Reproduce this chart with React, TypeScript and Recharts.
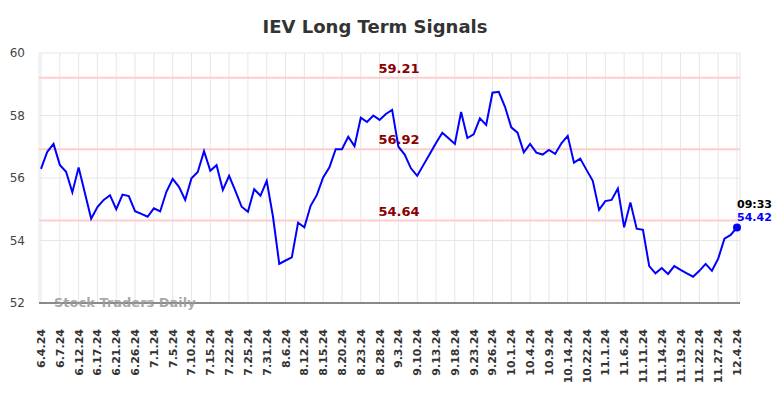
import React from "react";
import { LineChart, Line, XAxis, YAxis, CartesianGrid, ReferenceLine } from "recharts";

const dates: string[] = [
  "6.4.24","6.5.24","6.6.24","6.7.24","6.10.24","6.11.24","6.12.24","6.13.24","6.14.24","6.17.24",
  "6.18.24","6.20.24","6.21.24","6.24.24","6.25.24","6.26.24","6.27.24","6.28.24","7.1.24","7.2.24",
  "7.3.24","7.5.24","7.8.24","7.9.24","7.10.24","7.11.24","7.12.24","7.15.24","7.16.24","7.18.24",
  "7.22.24","7.23.24","7.24.24","7.25.24","7.26.24","7.29.24","7.31.24","8.1.24","8.2.24","8.6.24",
  "8.7.24","8.9.24","8.12.24","8.13.24","8.14.24","8.15.24","8.16.24","8.19.24","8.20.24","8.21.24",
  "8.22.24","8.23.24","8.26.24","8.27.24","8.28.24","8.29.24","8.30.24","9.3.24","9.5.24","9.6.24",
  "9.10.24","9.11.24","9.12.24","9.13.24","9.16.24","9.17.24","9.18.24","9.19.24","9.20.24","9.23.24",
  "9.24.24","9.25.24","9.26.24","9.27.24","9.30.24","10.1.24","10.2.24","10.3.24","10.4.24","10.7.24",
  "10.8.24","10.9.24","10.10.24","10.11.24","10.14.24","10.16.24","10.18.24","10.22.24","10.24.24","10.28.24",
  "11.1.24","11.4.24","11.5.24","11.6.24","11.7.24","11.8.24","11.11.24","11.12.24","11.13.24","11.14.24",
  "11.15.24","11.18.24","11.19.24","11.20.24","11.21.24","11.22.24","11.25.24","11.26.24","11.27.24","11.29.24",
  "12.3.24","12.4.24",
];

const prices: number[] = [
  56.29, 56.84, 57.09, 56.42, 56.20, 55.54, 56.34, 55.52, 54.70, 55.07,
  55.30, 55.45, 55.00, 55.47, 55.42, 54.94, 54.85, 54.76, 55.03, 54.93,
  55.56, 55.97, 55.72, 55.30, 55.99, 56.19, 56.86, 56.23, 56.41, 55.62,
  56.07, 55.59, 55.08, 54.92, 55.64, 55.43, 55.91, 54.76, 53.25, 53.36,
  53.46, 54.57, 54.42, 55.11, 55.46, 56.02, 56.34, 56.92, 56.92, 57.32,
  57.02, 57.93, 57.79, 58.00, 57.86, 58.05, 58.18, 57.00, 56.75, 56.31,
  56.07, 56.42, 56.77, 57.12, 57.45, 57.27, 57.09, 58.11, 57.28, 57.40,
  57.91, 57.70, 58.73, 58.76, 58.28, 57.62, 57.45, 56.82, 57.09, 56.81,
  56.75, 56.90, 56.77, 57.11, 57.35, 56.49, 56.62, 56.26, 55.91, 54.98,
  55.26, 55.30, 55.66, 54.42, 55.22, 54.38, 54.34, 53.18, 52.95, 53.12,
  52.93, 53.18, 53.06, 52.95, 52.84, 53.03, 53.25, 53.03, 53.42, 54.06,
  54.18, 54.42,
];

const signalLevels: number[] = [59.21, 56.92, 54.64];
const yTicks: number[] = [52, 54, 56, 58, 60];
const title = "IEV Long Term Signals";
const lastTime = "09:33";
const watermark = "Stock Traders Daily";

const data = dates.map((d, i) => ({ date: d, price: prices[i] }));
const lastIndex = prices.length - 1;

const FONT = "'DejaVu Sans', sans-serif";

const XTick = (props: any) => {
  const { x, y, payload } = props;
  return (
    <text
      x={0}
      y={0}
      transform={`translate(${x + 4},${y + 18}) rotate(-90)`}
      textAnchor="end"
      fontFamily={FONT}
      fontSize={11}
      fontWeight="bold"
      fill="#333"
    >
      {payload.value}
    </text>
  );
};

const LastDot = (props: any) => {
  const { cx, cy, index } = props;
  if (index !== lastIndex || cx == null) return null;
  return (
    <g>
      <circle cx={cx} cy={cy} r={4} fill="#0000ff" stroke="none" />
      <text x={cx} y={cy - 19} fontFamily={FONT} fontSize={11} fontWeight="bold" fill="#000">
        {lastTime}
      </text>
      <text x={cx} y={cy - 6} fontFamily={FONT} fontSize={11} fontWeight="bold" fill="#0000ff">
        {prices[lastIndex].toFixed(2)}
      </text>
    </g>
  );
};

const LevelLabel = (props: any) => {
  const { viewBox, value } = props;
  const cx = 399;
  return (
    <text
      x={cx}
      y={viewBox.y - 5}
      textAnchor="middle"
      fontFamily={FONT}
      fontSize={13}
      fontWeight="bold"
      fill="#8b0000"
    >
      {value}
    </text>
  );
};

export default function App() {
  return (
    <div style={{ position: "absolute", left: 0, top: 0, width: 784, height: 398, background: "#fff" }}>
      <svg width={784} height={398} style={{ position: "absolute", left: 0, top: 0, pointerEvents: "none" }}>
        <text
          x={375}
          y={33}
          textAnchor="middle"
          fontFamily={FONT}
          fontSize={18}
          fontWeight="bold"
          fill="#333"
        >
          {title}
        </text>
      </svg>
      <div style={{ position: "absolute", left: 0, top: 0 }}>
        <LineChart
          width={784}
          height={398}
          data={data}
          margin={{ top: 53, right: 44, bottom: 0, left: 0 }}
        >
          <CartesianGrid stroke="#e6e6e6" strokeWidth={1} />
          <XAxis
            dataKey="date"
            interval={2}
            height={95}
            tick={<XTick />}
            tickLine={false}
            axisLine={{ stroke: "#666", strokeWidth: 1.5 }}
            padding={{ left: 2, right: 3 }}
          />
          <YAxis
            domain={[52, 60]}
            ticks={yTicks}
            width={39}
            axisLine={false}
            tickLine={false}
            tickSize={0}
            tickMargin={14}
            tick={{ fontFamily: FONT, fontSize: 12, fill: "#444" }}
          />
          {signalLevels.map((lv) => (
            <ReferenceLine
              key={lv}
              y={lv}
              stroke="#ffcccc"
              strokeWidth={2}
              label={<LevelLabel value={lv.toFixed(2)} />}
            />
          ))}
          <Line
            type="linear"
            dataKey="price"
            stroke="#0000ff"
            strokeWidth={2}
            dot={<LastDot />}
            activeDot={false}
            isAnimationActive={false}
          />
        </LineChart>
      </div>
      <svg width={784} height={398} style={{ position: "absolute", left: 0, top: 0, pointerEvents: "none" }}>
        <text
          x={54}
          y={307}
          fontFamily={FONT}
          fontSize={13}
          fontWeight="bold"
          fill="#999"
          fillOpacity={0.85}
        >
          {watermark}
        </text>
      </svg>
    </div>
  );
}
